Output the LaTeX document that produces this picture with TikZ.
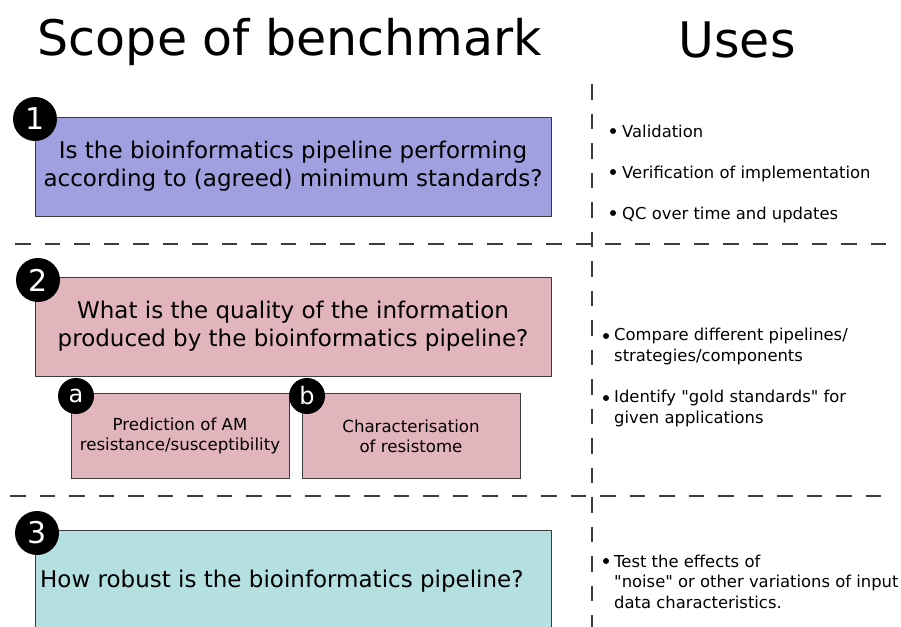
\documentclass[tikz,border=0pt]{standalone}
\usepackage{fontspec}
\setmainfont{DejaVu Sans}[Ligatures=TeXOff]
\definecolor{boxA}{RGB}{160,159,224}
\definecolor{boxB}{RGB}{226,180,187}
\definecolor{boxC}{RGB}{180,224,225}
\definecolor{edge}{RGB}{60,60,60}
\begin{document}
\begin{tikzpicture}[x=1pt,y=-1pt,
  qbox/.style={draw=edge,line width=1pt},
  qtext/.style={align=center,font=\fontsize{23}{28}\selectfont,inner sep=0pt},
  stext/.style={align=center,font=\fontsize{16.6}{20}\selectfont,inner sep=0pt},
  badge/.style={circle,fill=black,text=white,inner sep=0pt,minimum size=44pt,font=\fontsize{30}{30}\selectfont},
  sbadge/.style={circle,fill=black,text=white,inner sep=0pt,minimum size=36pt,font=\fontsize{24}{24}\selectfont},
  sep/.style={draw=edge,line width=1.5pt,dash pattern=on 15.5pt off 14pt},
  usetext/.style={anchor=base west,align=left,font=\fontsize{16.4}{20.5}\selectfont,inner sep=0pt},
  dot/.style={circle,fill=black,inner sep=0pt,minimum size=6pt},
  title/.style={font=\fontsize{49}{49}\selectfont,inner sep=0pt}]
\clip (0,0) rectangle (901,626);
\fill[white] (0,0) rectangle (901,626);
% titles
\node[title,anchor=base] (t1) at (290,56) {Scope of benchmark};
\node[title,anchor=base] (t2) at (737,58) {Uses};
% separators
\coordinate (h1a) at (15,244); \coordinate (h1b) at (895,244);
\coordinate (h2a) at (10,496); \coordinate (h2b) at (895,496);
\coordinate (va) at (592,84); \coordinate (vb) at (592,640);
\draw[sep] (h1a) -- (h1b);
\draw[sep] (h2a) -- (h2b);
\draw[sep] (va) -- (vb);
% box 1
\draw[qbox,fill=boxA] (35,117) rectangle (551,216);
\node[qtext] (q1) at (293,166) {Is the bioinformatics pipeline performing\\according to (agreed) minimum standards?};
\node[badge] (n1) at (35,119) {1};
% box 2
\draw[qbox,fill=boxB] (35,277) rectangle (551,376);
\node[qtext] (q2) at (293,326) {What is the quality of the information\\produced by the bioinformatics pipeline?};
\node[badge] (n2) at (38,280) {2};
% sub boxes
\draw[qbox,fill=boxB] (71,393) rectangle (289,478);
\node[stext] (qa) at (180,436) {Prediction of AM\\resistance/susceptibility};
\node[sbadge] (na) at (76,396) {a};
\draw[qbox,fill=boxB] (302,393) rectangle (520,478);
\node[stext] (qb) at (411,436) {Characterisation\\of resistome};
\node[sbadge] (nb) at (307,396) {b};
% box 3
\draw[qbox,fill=boxC] (35,530) rectangle (551,660);
\node[anchor=base west,font=\fontsize{23}{28}\selectfont,inner sep=0pt] (q3) at (40,587) {How robust is the bioinformatics pipeline?};
\node[badge] (n3) at (37,533) {3};
% uses 1
\node[dot] (d1) at (613,131) {};
\node[usetext] (u1) at (622,137) {Validation};
\node[dot] (d2) at (613,172) {};
\node[usetext] (u2) at (622,178) {Verification of implementation};
\node[dot] (d3) at (613,213) {};
\node[usetext] (u3) at (622,219) {QC over time and updates};
% uses 2
\node[dot] (d4) at (606,336) {};
\node[usetext] (u4) at (614,361) {Compare different pipelines/\\strategies/components};
\node[dot] (d5) at (606,398) {};
\node[usetext] (u5) at (614,423) {Identify "gold standards" for\\given applications};
% uses 3
\node[dot] (d6) at (606,561) {};
\node[usetext] (u6) at (614,608) {Test the effects of\\"noise" or other variations of input\\data characteristics.};
\end{tikzpicture}
\end{document}
